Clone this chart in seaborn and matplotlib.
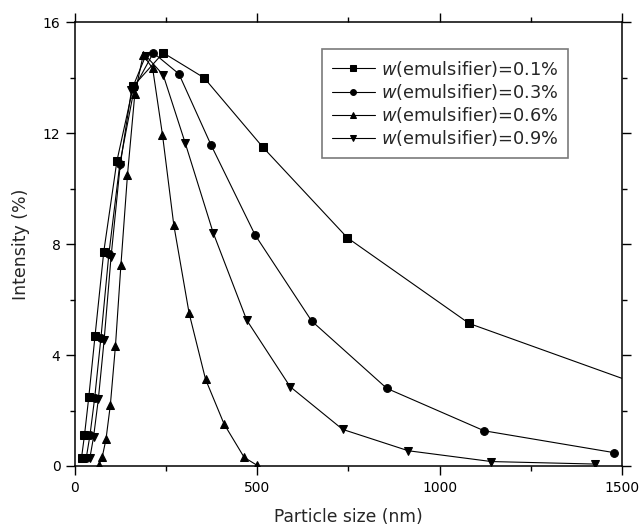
import numpy as np
import pandas as pd
import matplotlib
matplotlib.use("Agg")
import matplotlib.pyplot as plt
import seaborn as sns
from matplotlib.ticker import MultipleLocator

# ---- data ----
labels = [r"$\it{w}$(emulsifier)=0.1%", r"$\it{w}$(emulsifier)=0.3%",
          r"$\it{w}$(emulsifier)=0.6%", r"$\it{w}$(emulsifier)=0.9%"]
markers = ["s", "o", "^", "v"]

x_01 = [18, 26, 38, 55, 79, 115, 160, 242, 354, 515, 747, 1081, 1570]
y_01 = [0.3, 1.1, 2.5, 4.69, 7.73, 11.0, 13.7, 14.9, 14.0, 11.5, 8.23, 5.14, 2.83]

x_03 = [31, 41, 54, 71, 93, 123, 163, 215, 285, 373, 494, 649, 855, 1122, 1479]
y_03 = [0.3, 1.1, 2.45, 4.6, 7.65, 10.9, 13.65, 14.9, 14.14, 11.58, 8.33, 5.23, 2.80, 1.27, 0.48]

x_06 = [66, 75, 85, 97, 111, 126, 144, 164, 187, 213, 240, 271, 313, 358, 409, 464, 500]
y_06 = [0.05, 0.34, 0.96, 2.2, 4.33, 7.25, 10.5, 13.4, 14.82, 14.34, 11.94, 8.69, 5.51, 3.13, 1.51, 0.31, 0.02]

x_09 = [41, 51, 64, 80, 99, 124, 155, 194, 242, 302, 379, 471, 590, 734, 914, 1142, 1426]
y_09 = [0.3, 1.05, 2.4, 4.55, 7.55, 10.85, 13.55, 14.8, 14.1, 11.66, 8.41, 5.26, 2.86, 1.32, 0.55, 0.16, 0.07]

xs = [x_01, x_03, x_06, x_09]
ys = [y_01, y_03, y_06, y_09]

frames = []
for lab, xv, yv in zip(labels, xs, ys):
    frames.append(pd.DataFrame({"size": xv, "intensity": yv, "series": lab}))
df = pd.concat(frames, ignore_index=True)

sns.set_theme(style="ticks")
plt.rcParams["font.family"] = ["DejaVu Sans"]
plt.rcParams["mathtext.fontset"] = "dejavusans"

fig = plt.figure(figsize=(6.43, 5.29), dpi=100)
ax = fig.add_axes([0.1166, 0.1191, 0.8507, 0.8387])

for lab, mk in zip(labels, markers):
    sub = df[df["series"] == lab]
    sns.lineplot(data=sub, x="size", y="intensity", ax=ax, sort=False,
                 estimator=None, color="black", linewidth=0.8,
                 marker=mk, markersize=5.6,
                 markeredgecolor="black", markerfacecolor="black",
                 label=lab)

ax.set_xlim(0, 1500)
ax.set_ylim(0, 16)
ax.xaxis.set_major_locator(MultipleLocator(500))
ax.xaxis.set_minor_locator(MultipleLocator(250))
ax.yaxis.set_major_locator(MultipleLocator(4))
ax.yaxis.set_minor_locator(MultipleLocator(2))
ax.tick_params(which="both", direction="out", top=True, right=True,
               labelsize=10, colors="black", width=1.0)
ax.tick_params(which="major", length=6.5, pad=4)
ax.tick_params(which="minor", length=3.5)
for s in ax.spines.values():
    s.set_linewidth(1.1)
    s.set_color("black")

ax.set_xlabel("Particle size (nm)", fontsize=12.3, labelpad=10)
ax.set_ylabel("Intensity (%)", fontsize=12.5, labelpad=9)

leg = ax.legend(loc="upper right", bbox_to_anchor=(0.901, 0.94),
                fontsize=12.8, frameon=True, fancybox=False,
                edgecolor="0.35", handlelength=2.4, handletextpad=0.35,
                borderpad=0.55, labelspacing=0.18, borderaxespad=0,
                markerscale=0.75)
leg.get_frame().set_linewidth(1.2)

fig.savefig("out.png", dpi=100)
